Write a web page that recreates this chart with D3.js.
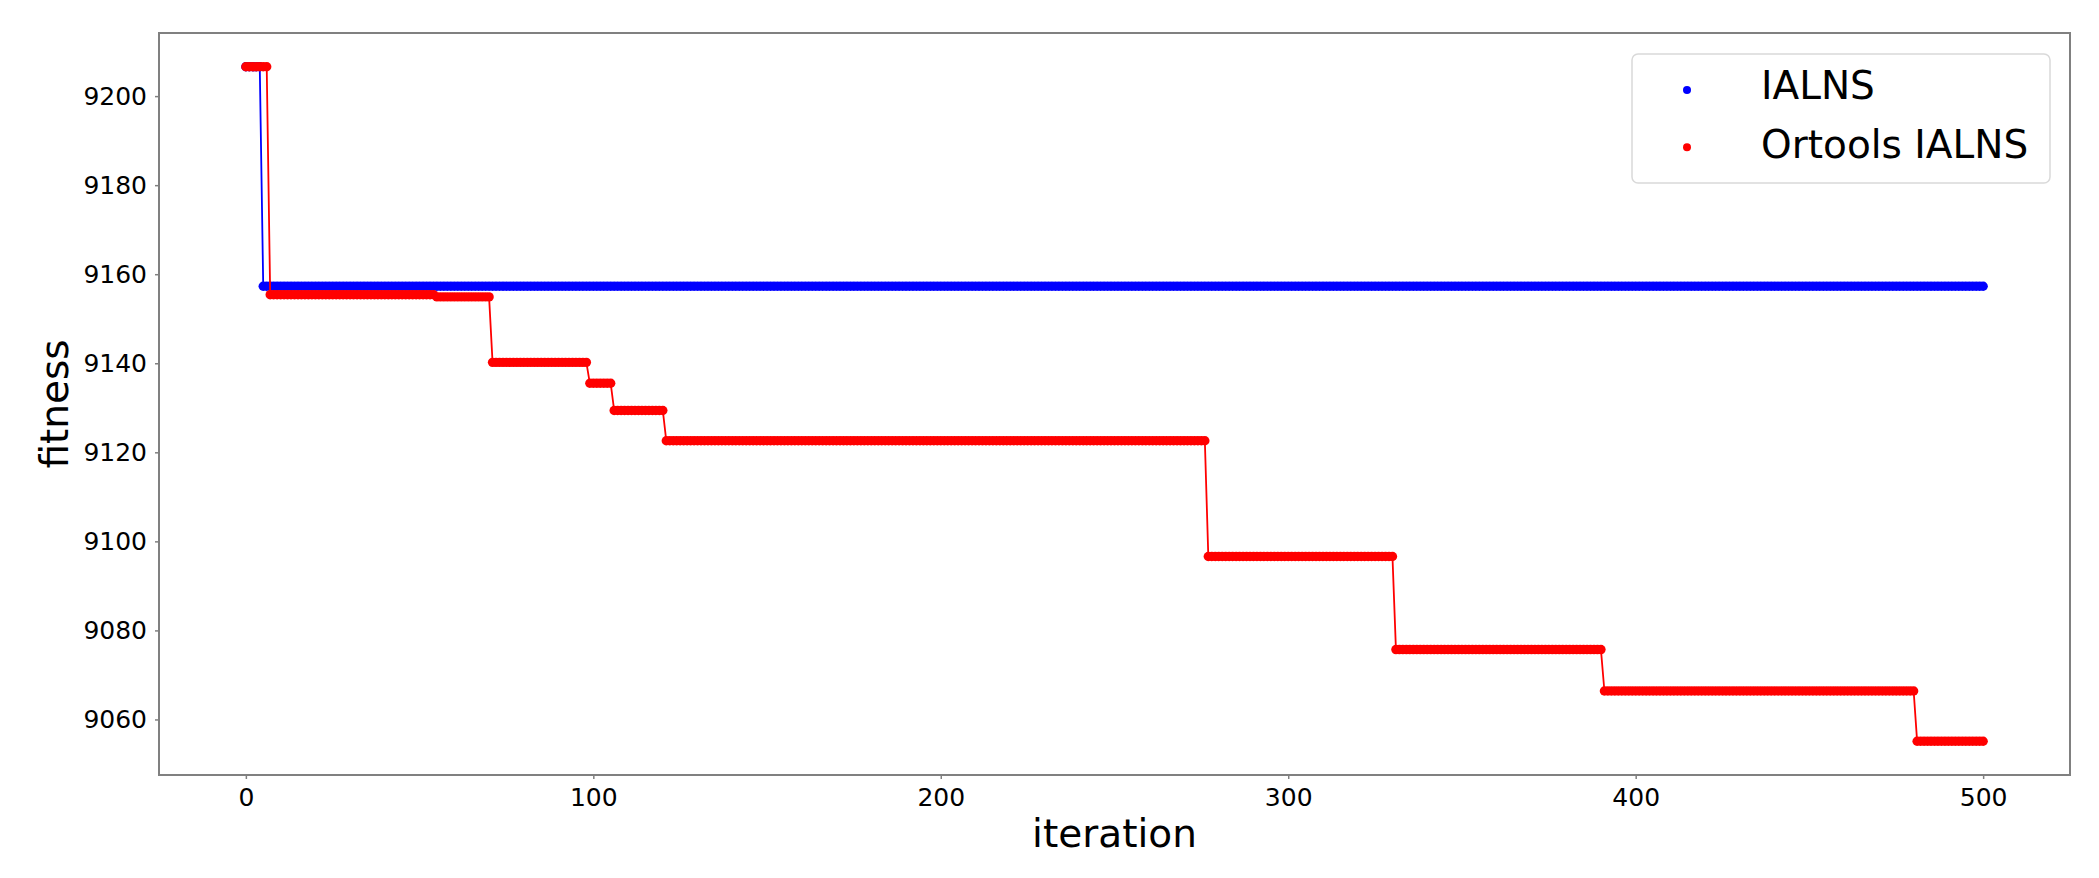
<!DOCTYPE html>
<html>
<head>
<meta charset="utf-8">
<script src="https://cdn.jsdelivr.net/npm/d3@7"></script>
<style>
  body { margin: 0; background: #fff; }
  svg { font-family: "DejaVu Sans", sans-serif; }
</style>
</head>
<body>
<svg id="chart" width="2099" height="878"></svg>
<script>
// iterations run 0..500, fitness is best-so-far, so keep only where it changes
var iterations = d3.range(0, 501)

var ialnsChangeAt = [0, 5]
var ialnsValues = [9206.6, 9157.3]

var ortoolsChangeAt = [0, 7, 55, 71, 99, 106, 121, 277, 331, 391, 481]
var ortoolsValues = [9206.6, 9155.4, 9154.9, 9140.2, 9135.5, 9129.4, 9122.6, 9096.6, 9075.7, 9066.4, 9055.1]

var xTicks = [0, 100, 200, 300, 400, 500]
var yTicks = [9060, 9080, 9100, 9120, 9140, 9160, 9180, 9200]

var seriesNames = ["IALNS", "Ortools IALNS"]
var seriesColors = ["#0000ff", "#ff0000"]

// expand change points into one value per iteration
var expand = (changeAt, values) => iterations.map(it => {
  var k = d3.bisectRight(changeAt, it) - 1
  return { x: it, y: values[k] }
})

var series = [
  expand(ialnsChangeAt, ialnsValues),
  expand(ortoolsChangeAt, ortoolsValues)
]

var margin = { top: 33, right: 29, bottom: 103, left: 159 }
var width = 2099
var height = 878

var svg = d3.select("#chart")

// matplotlib style 5% padding on both axes
var allY = series.flat().map(d => d.y)
var yMin = d3.min(allY), yMax = d3.max(allY)
var yPad = (yMax - yMin) * 0.05
var xPad = (d3.max(iterations) - d3.min(iterations)) * 0.05

var x = d3.scaleLinear()
  .domain([d3.min(iterations) - xPad, d3.max(iterations) + xPad])
  .range([margin.left, width - margin.right])

var y = d3.scaleLinear()
  .domain([yMin - yPad, yMax + yPad])
  .range([height - margin.bottom, margin.top])

// series: thin connecting line, then dot markers
series.forEach((data, i) => {
  var g = svg.append("g")
  g.append("path")
    .datum(data)
    .attr("fill", "none")
    .attr("stroke", seriesColors[i])
    .attr("stroke-width", 1.8)
    .attr("d", d3.line().x(d => x(d.x)).y(d => y(d.y)))
  g.selectAll("circle")
    .data(data)
    .enter().append("circle")
    .attr("cx", d => x(d.x))
    .attr("cy", d => y(d.y))
    .attr("r", 4.7)
    .attr("fill", seriesColors[i])
})

// frame
svg.append("rect")
  .attr("x", margin.left)
  .attr("y", margin.top)
  .attr("width", width - margin.right - margin.left)
  .attr("height", height - margin.bottom - margin.top)
  .attr("fill", "none")
  .attr("stroke", "#808080")
  .attr("stroke-width", 2)

var xAxis = svg.append("g")
  .attr("transform", "translate(0," + (height - margin.bottom) + ")")
  .call(d3.axisBottom(x).tickValues(xTicks).tickSize(4).tickPadding(9).tickSizeOuter(0))
var yAxis = svg.append("g")
  .attr("transform", "translate(" + margin.left + ",0)")
  .call(d3.axisLeft(y).tickValues(yTicks).tickFormat(d3.format("d")).tickSize(4).tickPadding(8).tickSizeOuter(0))

;[xAxis, yAxis].forEach(ax => {
  ax.select(".domain").remove()
  ax.selectAll(".tick line").attr("stroke", "#808080").attr("stroke-width", 1.5)
  ax.selectAll(".tick text")
    .attr("fill", "#000")
    .style("font-size", "25px")
    .style("font-family", "DejaVu Sans")
})

// axis titles
svg.append("text")
  .attr("x", (margin.left + width - margin.right) / 2)
  .attr("y", 847)
  .attr("text-anchor", "middle")
  .style("font-size", "39px")
  .text("iteration")

svg.append("text")
  .attr("transform", "translate(68," + ((margin.top + height - margin.bottom) / 2) + ") rotate(-90)")
  .attr("text-anchor", "middle")
  .style("font-size", "39px")
  .text("fitness")

// legend
var legend = svg.append("g")
legend.append("rect")
  .attr("x", 1632)
  .attr("y", 54)
  .attr("width", 418)
  .attr("height", 129)
  .attr("rx", 6)
  .attr("fill", "#fff")
  .attr("fill-opacity", 0.8)
  .attr("stroke", "#d9d9d9")
  .attr("stroke-width", 1.5)

seriesNames.forEach((name, i) => {
  legend.append("circle")
    .attr("cx", 1687)
    .attr("cy", 90 + i * 57.3)
    .attr("r", 4)
    .attr("fill", seriesColors[i])
  legend.append("text")
    .attr("x", 1761)
    .attr("y", 99 + i * 59.3)
    .style("font-size", "39px")
    .text(name)
})
</script>
</body>
</html>
